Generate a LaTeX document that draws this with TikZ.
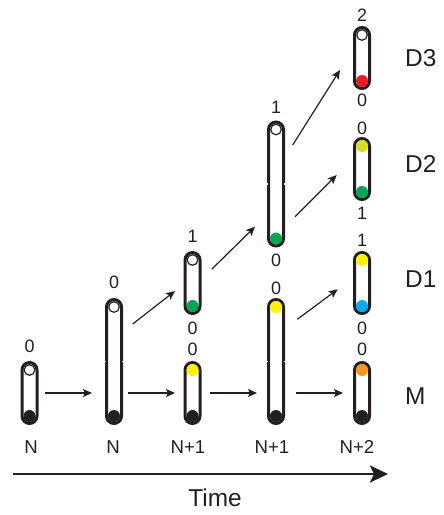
\documentclass[tikz,border=0pt]{standalone}
\usepackage{fontspec}
\setmainfont{Liberation Sans}
\usetikzlibrary{arrows.meta,calc}
\definecolor{ink}{HTML}{231F20}
\definecolor{cyel}{HTML}{FFF200}
\definecolor{colive}{HTML}{D7DF23}
\definecolor{cgreen}{HTML}{00A651}
\definecolor{cred}{HTML}{ED1C24}
\definecolor{cblue}{HTML}{00AEEF}
\definecolor{corange}{HTML}{F7941D}
\begin{document}
\begin{tikzpicture}[x=1bp,y=-1bp,
  tube/.style={draw=ink,line width=3bp,rounded corners=7.5bp,minimum width=15bp,inner sep=0pt,fill=white},
  shorttube/.style={tube,minimum height=61bp},
  longtube/.style={tube,minimum height=124bp},
  dot/.style={circle,fill=#1,inner sep=0pt,minimum size=12bp},
  wdot/.style={circle,fill=white,draw=ink,line width=1.2bp,inner sep=0pt,minimum size=10.6bp},
  num/.style={font=\fontsize{18}{18}\selectfont,text=ink,inner sep=0pt},
  tlabel/.style={font=\fontsize{18.7}{19}\selectfont,text=ink,inner sep=0pt},
  rlabel/.style={font=\fontsize{24.5}{25}\selectfont,text=ink,inner sep=0pt,anchor=west},
  arr/.style={draw=ink,line width=1.2bp,-{Stealth[length=9bp,width=8bp,inset=2bp]}},
  timearr/.style={draw=ink,line width=2.7bp,-{Stealth[length=18bp,width=17bp,inset=4bp]}},
  notch/.style={fill=white,draw=none}
]
\useasboundingbox (0,0) rectangle (444,515);

% tubes
\node[shorttube] (t1) at (29.5,393) {};
\node[longtube] (t2) at (114,361.5) {};
\node[shorttube] (t3d) at (192.5,283) {};
\node[shorttube] (t3m) at (192.5,393) {};
\node[longtube] (t4u) at (276,184) {};
\node[longtube] (t4m) at (276,361.5) {};
\node[shorttube] (t5d3) at (362,58) {};
\node[shorttube] (t5d2) at (362,169) {};
\node[shorttube] (t5d1) at (362,283) {};
\node[shorttube] (t5m) at (362,393) {};

% notches on the long tubes
\foreach \x/\y in {114/361.5,276/361.5,276/184}{
  \fill[notch] (\x-9.2,\y-0.8) rectangle (\x-8.2,\y+0.8);
  \fill[notch] (\x+8.2,\y-0.8) rectangle (\x+9.2,\y+0.8);
}

% dots
\node[wdot] (d1a) at (29.5,370) {};
\node[dot=ink] (d1b) at (29.5,416) {};
\node[wdot] (d2a) at (114,307) {};
\node[dot=ink] (d2b) at (114,416) {};
\node[wdot] (d3a) at (192.5,260) {};
\node[dot=cgreen] (d3b) at (192.5,306) {};
\node[dot=cyel] (d3c) at (192.5,370) {};
\node[dot=ink] (d3d) at (192.5,416) {};
\node[wdot] (d4a) at (276,129.5) {};
\node[dot=cgreen] (d4b) at (276,238.5) {};
\node[dot=cyel] (d4c) at (276,307) {};
\node[dot=ink] (d4d) at (276,416) {};
\node[wdot] (d5a) at (362,35) {};
\node[dot=cred] (d5b) at (362,81) {};
\node[dot=colive] (d5c) at (362,146) {};
\node[dot=cgreen] (d5d) at (362,192) {};
\node[dot=cyel] (d5e) at (362,260) {};
\node[dot=cblue] (d5f) at (362,306) {};
\node[dot=corange] (d5g) at (362,370) {};
\node[dot=ink] (d5h) at (362,416) {};

% numbers
\node[num] (n1) at (29.5,346) {0};
\node[num] (n2) at (114,282) {0};
\node[num] (n3) at (192.5,236) {1};
\node[num] (n4) at (192.5,328) {0};
\node[num] (n5) at (192.5,349) {0};
\node[num] (n6) at (276,107) {1};
\node[num] (n7) at (276,260) {0};
\node[num] (n8) at (276,288) {0};
\node[num] (n9) at (362,15) {2};
\node[num] (n10) at (362,100) {0};
\node[num] (n11) at (362,128) {0};
\node[num] (n12) at (362,213) {1};
\node[num] (n13) at (362,240) {1};
\node[num] (n14) at (362,328) {0};
\node[num] (n15) at (362,349) {0};

% bottom labels
\node[tlabel] (b1) at (31,446.7) {N};
\node[tlabel] (b2) at (113,446.7) {N};
\node[tlabel] (b3) at (188,446.7) {N+1};
\node[tlabel] (b4) at (272,446.7) {N+1};
\node[tlabel] (b5) at (357,446.7) {N+2};

% right labels
\node[rlabel] (r1) at (405,58) {D3};
\node[rlabel] (r2) at (405,164) {D2};
\node[rlabel] (r3) at (405,279) {D1};
\node[rlabel] (r4) at (405,396) {M};

% arrow end points
\coordinate (a1s) at (45,393);   \coordinate (a1e) at (92,393);
\coordinate (a2s) at (128,393);  \coordinate (a2e) at (175,393);
\coordinate (a3s) at (210,393);  \coordinate (a3e) at (257,393);
\coordinate (a4s) at (296,393);  \coordinate (a4e) at (343,393);
\coordinate (b1s) at (132.7,324); \coordinate (b1e) at (175,291);
\coordinate (b2s) at (211.7,269.3); \coordinate (b2e) at (255,226.7);
\coordinate (b3s) at (297.3,319.3); \coordinate (b3e) at (337.7,289.3);
\coordinate (b4s) at (295,216.7); \coordinate (b4e) at (336.7,175);
\coordinate (b5s) at (292.7,145); \coordinate (b5e) at (340,70);

\draw[arr] (a1s) -- (a1e);
\draw[arr] (a2s) -- (a2e);
\draw[arr] (a3s) -- (a3e);
\draw[arr] (a4s) -- (a4e);
\draw[arr] (b1s) -- (b1e);
\draw[arr] (b2s) -- (b2e);
\draw[arr] (b3s) -- (b3e);
\draw[arr] (b4s) -- (b4e);
\draw[arr] (b5s) -- (b5e);

% time axis
\coordinate (ts) at (13,474);
\coordinate (te) at (388,474);
\draw[timearr] (ts) -- (te);
\node[rlabel,anchor=center] (time) at (215,498) {Time};
\end{tikzpicture}
\end{document}
